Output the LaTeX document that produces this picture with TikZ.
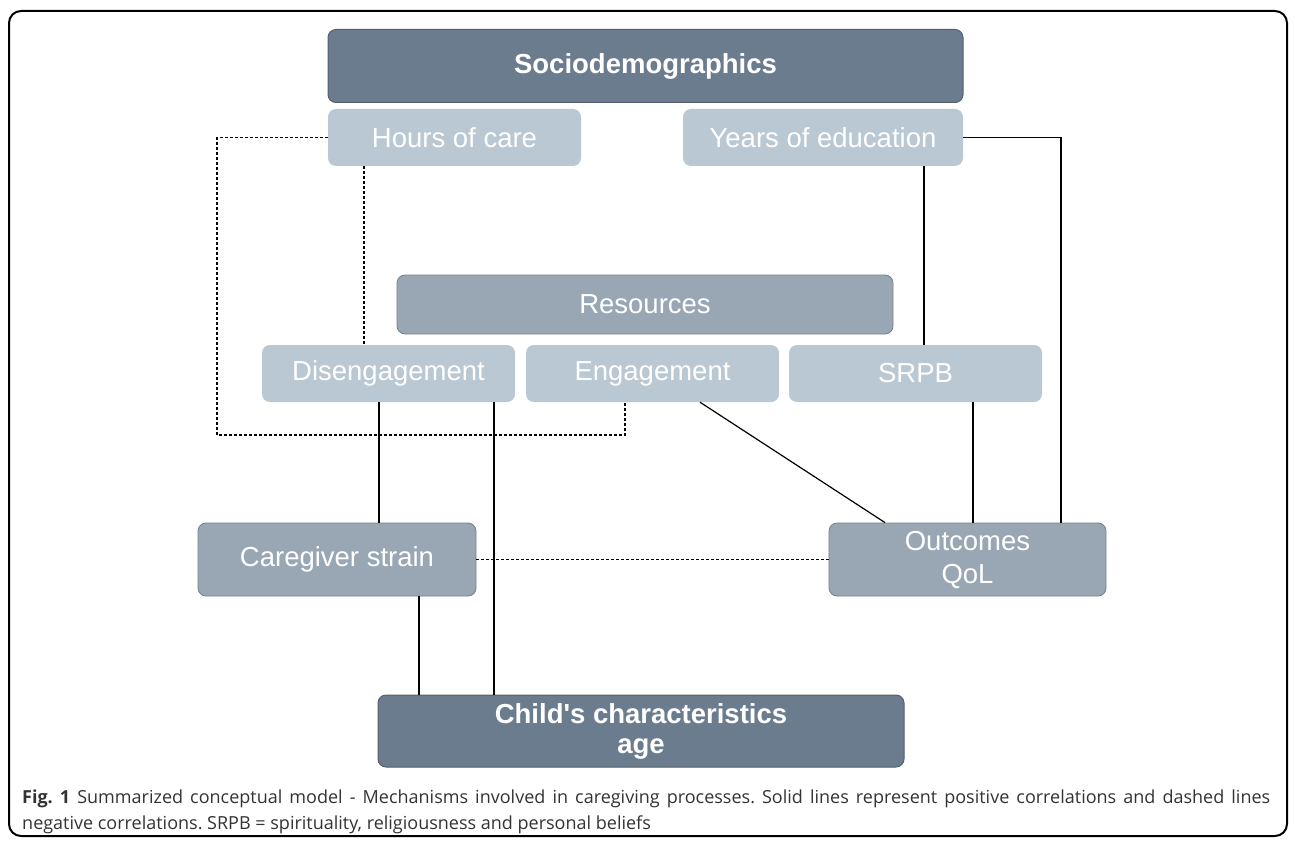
\documentclass[tikz,border=0pt]{standalone}
\usepackage{fontspec}
\setmainfont{Liberation Sans}
\newfontfamily\capfont{Open Sans}
\usetikzlibrary{positioning}
\definecolor{darkbox}{HTML}{6B7C8F}
\definecolor{midbox}{HTML}{99A7B4}
\definecolor{lightbox}{HTML}{BAC8D3}
\definecolor{boxline}{HTML}{55606C}
\definecolor{captext}{HTML}{333333}

\begin{document}
\begin{tikzpicture}[x=1pt,y=-1pt,
	box/.style={rounded corners=8pt, text=white, align=center, inner sep=0pt,
		font=\fontsize{27.5}{33}\selectfont},
	head/.style={box, fill=darkbox, draw=boxline, line width=1pt, font=\fontsize{27.5}{30}\selectfont\bfseries},
	group/.style={box, fill=midbox, draw=boxline!80, line width=0.8pt},
	item/.style={box, fill=lightbox},
	poslink/.style={line width=1.2pt},
	neglink/.style={line width=1.5pt, dash pattern=on 3pt off 2pt}]
	\useasboundingbox (0,0) rectangle (1295,845);
	\draw[line width=2pt, rounded corners=12pt] (9,11) rectangle (1287,836);

	\node[head, minimum width=635pt, minimum height=73pt] (Sociodemographics) at (645.5,66) {Sociodemographics};
	\node[item, minimum width=253pt, minimum height=57pt] (Hours) at (454.5,137.5) {Hours of care};
	\node[item, minimum width=280pt, minimum height=57pt] (Years) at (823,137.5) {Years of education};

	\node[group, minimum width=496pt, minimum height=59pt] (Resources) at (645,304.5) {Resources};
	\node[item, minimum width=253pt, minimum height=57pt] (Disengagement) at (388.5,373.5) {Disengagement};
	\node[item, minimum width=253pt, minimum height=57pt] (Engagement) at (652.5,373.5) {Engagement};
	\node[item, minimum width=253pt, minimum height=57pt] (SRPB) at (915.5,373.5) {SRPB};

	\node[group, minimum width=278pt, minimum height=73pt] (Caregiver) at (337,559.5) {Caregiver strain};
	\node[group, minimum width=277pt, minimum height=73pt] (Outcomes) at (967.5,559.5) {Outcomes\\QoL};

	\node[head, minimum width=526pt, minimum height=72pt] (Child) at (641,731) {Child\textquotesingle s characteristics\\age};

	\coordinate (DashCorner) at (217,435);

	\draw[neglink] (Hours.west) -| (DashCorner) -| ([xshift=-27.5pt]Engagement.south);
	\draw[neglink] ([xshift=-90.5pt]Hours.south) -- ([xshift=-90.5pt]Hours.south |- Disengagement.north);
	\draw[poslink] ([xshift=101pt]Years.south) -- ([xshift=101pt]Years.south |- SRPB.north);
	\draw[poslink] (Years.east) -| ([xshift=93.5pt]Outcomes.north);

	\draw[poslink] ([xshift=-9.5pt]Disengagement.south) -- ([xshift=-9.5pt]Disengagement.south |- Caregiver.north);
	\draw[poslink] ([xshift=105.5pt]Disengagement.south) -- ([xshift=105.5pt]Disengagement.south |- Child.north);
	\draw[poslink] ([xshift=47.5pt]Engagement.south) -- ([xshift=-82.5pt]Outcomes.north);
	\draw[poslink] ([xshift=57.5pt]SRPB.south) -- ([xshift=57.5pt]SRPB.south |- Outcomes.north);

	\draw[neglink] (Caregiver.east) -- (Outcomes.west);
	\draw[poslink] ([xshift=82pt]Caregiver.south) -- ([xshift=82pt]Caregiver.south |- Child.north);

	\node[anchor=base west, inner sep=0pt, text=captext, font=\fontsize{18}{26}\capfont\frenchspacing] (CaptionA) at (22,803)
		{\makebox[1248pt][s]{\textbf{Fig. 1} Summarized conceptual model - Mechanisms involved in caregiving processes. Solid lines represent positive correlations and dashed lines}};
	\node[anchor=base west, inner sep=0pt, text=captext, font=\fontsize{18}{26}\capfont\frenchspacing] (CaptionB) at (22,829)
		{negative correlations. SRPB = spirituality, religiousness and personal beliefs};
\end{tikzpicture}
\end{document}
